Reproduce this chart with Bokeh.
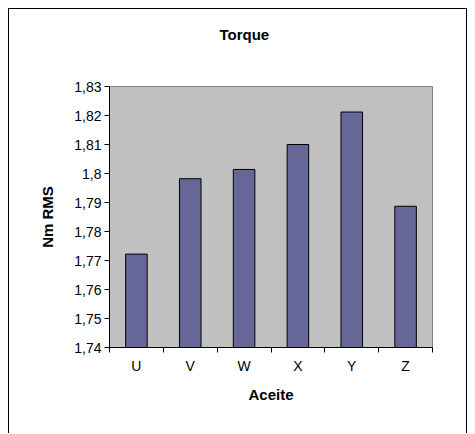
from bokeh.plotting import figure
from bokeh.models import Range1d, LinearAxis, FixedTicker, Title, ColumnDataSource
from bokeh.embed import file_html
from bokeh.resources import INLINE

# Torque per oil sample
categories = ["U", "V", "W", "X", "Y", "Z"]
torque_nm_rms = [1.7722, 1.7982, 1.8014, 1.8100, 1.8212, 1.7887]

y_ticks = [1.74, 1.75, 1.76, 1.77, 1.78, 1.79, 1.80, 1.81, 1.82, 1.83]
y_tick_labels = ["1,74", "1,75", "1,76", "1,77", "1,78", "1,79", "1,8", "1,81", "1,82", "1,83"]

FONT = "Liberation Sans"

# each category occupies one unit slot; bars sit at slot centres
n = len(categories)
centers = [i + 0.5 for i in range(n)]
bounds = [float(i) for i in range(n + 1)]

source = ColumnDataSource(dict(x=centers, top=torque_nm_rms, name=categories))

p = figure(width=459, height=425, output_backend="svg", toolbar_location=None,
           x_range=Range1d(0, n),
           y_range=Range1d(y_ticks[0], y_ticks[-1]),
           x_axis_type=None, y_axis_type=None,
           min_border_left=100, min_border_right=36,
           min_border_top=76, min_border_bottom=87)

# chart area frame (open at the bottom)
p.margin = (8, 0, 0, 8)
p.styles = {"border-left": "1px solid black",
            "border-top": "1px solid black",
            "border-right": "1px solid black"}

p.background_fill_color = "#C0C0C0"
p.border_fill_color = "white"
p.outline_line_color = "#808080"
p.outline_line_width = 1

xaxis = LinearAxis(ticker=FixedTicker(ticks=centers, minor_ticks=bounds),
                   axis_label="Aceite")
xaxis.major_label_overrides = {c: lab for c, lab in zip(centers, categories)}
xaxis.major_tick_out = 0
xaxis.major_tick_in = 0
xaxis.minor_tick_out = 5
xaxis.minor_tick_in = 0
xaxis.minor_tick_line_color = "black"
xaxis.axis_line_color = "black"
xaxis.major_label_standoff = 5
xaxis.major_label_text_font = FONT
xaxis.major_label_text_font_size = "14px"
xaxis.major_label_text_color = "black"
xaxis.axis_label_text_font = FONT
xaxis.axis_label_text_font_size = "15px"
xaxis.axis_label_text_font_style = "bold"
xaxis.axis_label_text_color = "black"
xaxis.axis_label_standoff = 9
p.add_layout(xaxis, "below")

yaxis = LinearAxis(ticker=FixedTicker(ticks=y_ticks), axis_label="Nm RMS")
yaxis.major_label_overrides = {v: lab for v, lab in zip(y_ticks, y_tick_labels)}
yaxis.major_tick_out = 5
yaxis.major_tick_in = 0
yaxis.minor_tick_line_color = None
yaxis.axis_line_color = "black"
yaxis.major_label_standoff = 3
yaxis.major_label_text_font = FONT
yaxis.major_label_text_font_size = "14px"
yaxis.major_label_text_color = "black"
yaxis.axis_label_text_font = FONT
yaxis.axis_label_text_font_size = "15px"
yaxis.axis_label_text_font_style = "bold"
yaxis.axis_label_text_color = "black"
yaxis.axis_label_standoff = 15
p.add_layout(yaxis, "left")

# blank axis above the frame (white tick on white): keeps a gap under the title
gap = LinearAxis(ticker=FixedTicker(ticks=[0.0]), axis_line_color=None,
                 major_tick_line_color="white", minor_tick_line_color=None,
                 major_tick_out=30, major_tick_in=0, major_label_standoff=0,
                 major_label_text_font_size="0px")
gap.major_label_overrides = {0.0: ""}
p.add_layout(gap, "above")

# horizontal gridlines at the inner ticks
p.ygrid.ticker = FixedTicker(ticks=y_ticks[1:-1])
p.ygrid.grid_line_color = "black"
p.ygrid.grid_line_width = 1
p.xgrid.visible = False

p.vbar(x="x", top="top", bottom=y_ticks[0], width=0.4, source=source,
       fill_color="#666699", line_color="black", line_width=1)

p.title = Title(text="Torque", align="left", offset=110, standoff=28,
                text_font=FONT, text_font_size="15px", text_font_style="bold",
                text_color="black")

open("out.html", "w").write(file_html(p, INLINE))
